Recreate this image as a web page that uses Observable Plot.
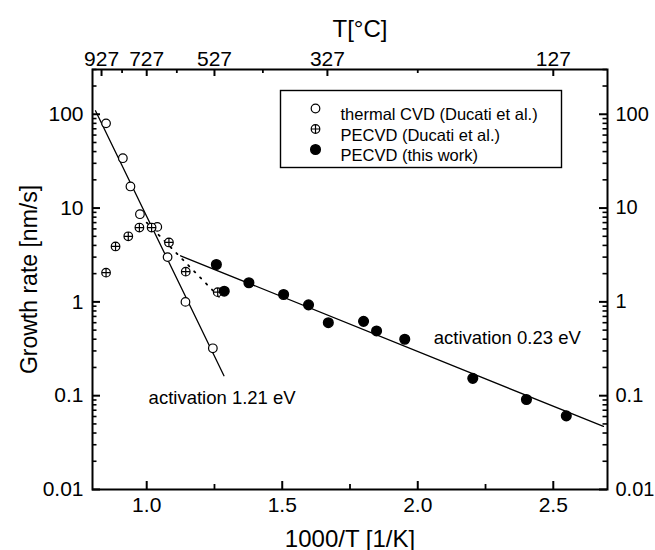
<!DOCTYPE html>
<html><head><meta charset="utf-8">
<script src="https://cdn.jsdelivr.net/npm/d3@7"></script>
<script src="https://cdn.jsdelivr.net/npm/@observablehq/plot@0.6"></script>
<style>
body{margin:0;background:#fff;}
#chart{width:655px;height:550px;}
</style></head><body><div id="chart"></div>
<script>
// thermal CVD (Ducati et al.)
const thermalX = [0.850, 0.912, 0.940, 0.975, 1.039, 1.077, 1.143, 1.244];
const thermalY = [80, 34, 17, 8.6, 6.3, 3.0, 1.0, 0.32];
// PECVD (Ducati et al.)
const ducatiX = [0.850, 0.885, 0.932, 0.973, 1.018, 1.082, 1.144, 1.262];
const ducatiY = [2.05, 3.9, 5.0, 6.2, 6.2, 4.3, 2.1, 1.27];
// PECVD (this work)
const workX = [1.257, 1.286, 1.377, 1.505, 1.597, 1.670, 1.800, 1.848, 1.952, 2.203, 2.401, 2.548];
const workY = [2.5, 1.3, 1.6, 1.2, 0.93, 0.60, 0.62, 0.49, 0.40, 0.153, 0.091, 0.061];
// fit lines
const fit121X = [0.811, 1.285];
const fit121Y = [109, 0.163];
const fit023X = [1.125, 2.685];
const fit023Y = [3.1, 0.047];
const dottedX = [1.0, 1.275];
const dottedY = [7.0, 1.07];
// ticks
const xTicks = [1.0, 1.5, 2.0, 2.5];
const xMinor = [1.25, 1.75, 2.25];
const yTicks = [0.01, 0.1, 1, 10, 100];
const yMinor = [0.02,0.03,0.04,0.05,0.06,0.07,0.08,0.09,0.2,0.3,0.4,0.5,0.6,0.7,0.8,0.9,2,3,4,5,6,7,8,9,20,30,40,50,60,70,80,90,200,300];
const tempTicksC = [927, 727, 527, 327, 127];
const tempMinorC = [827, 627, 427, 227];
const legendLabels = ["thermal CVD (Ducati et al.)", "PECVD (Ducati et al.)", "PECVD (this work)"];
const annotations = [
  {x: 1.007, y: 0.095, text: "activation 1.21 eV"},
  {x: 2.059, y: 0.414, text: "activation 0.23 eV"}
];

const zip = (xs, ys) => xs.map((x, i) => ({x, y: ys[i]}));
const invT = c => 1000 / (c + 273);

const crossCircle = {
  draw(ctx, size) {
    const r = Math.sqrt(size / Math.PI);
    ctx.moveTo(r, 0);
    ctx.arc(0, 0, r, 0, 2 * Math.PI);
    ctx.moveTo(-r, 0); ctx.lineTo(r, 0);
    ctx.moveTo(0, -r); ctx.lineTo(0, r);
  }
};

const W = 655, H = 550, ML = 92, MR = 48, MT = 69, MB = 61;
const FW = W - ML - MR, FH = H - MT - MB;
const FS = 21;
// inward tick helpers (fixed pixel length via insets)
const tickBottom = (t, len, sw) => Plot.ruleX(t, {x: d => d, insetTop: FH - len, stroke: "#000", strokeWidth: sw});
const tickTop = (t, len, sw) => Plot.ruleX(t, {x: d => d, insetBottom: FH - len, stroke: "#000", strokeWidth: sw});
const tickLeft = (t, len, sw) => Plot.ruleY(t, {y: d => d, insetRight: FW - len, stroke: "#000", strokeWidth: sw});
const tickRight = (t, len, sw) => Plot.ruleY(t, {y: d => d, insetLeft: FW - len, stroke: "#000", strokeWidth: sw});

const chart = Plot.plot({
  width: W, height: H,
  marginLeft: ML, marginRight: MR, marginTop: MT, marginBottom: MB,
  style: {fontFamily: "'Liberation Sans', Arial, sans-serif", background: "#fff", color: "#000"},
  x: {domain: [0.8, 2.7]},
  y: {type: "log", domain: [0.01, 300]},
  marks: [
    // bottom axis
    Plot.axisX({anchor: "bottom", ticks: xTicks, tickSize: 0, tickPadding: 8, tickFormat: d3.format(".1f"), fontSize: FS, label: null}),
    tickBottom(xTicks, 8, 2),
    tickBottom(xMinor, 5, 1.8),
    // top axis (temperature)
    Plot.axisX({anchor: "top", ticks: tempTicksC.map(invT), tickSize: 0, tickPadding: 4, tickFormat: d => String(Math.round(1000 / d - 273)), fontSize: FS, label: null}),
    tickTop(tempTicksC.map(invT), 7, 2),
    tickTop(tempMinorC.map(invT), 4, 1.8),
    // left axis
    Plot.axisY({anchor: "left", ticks: yTicks, tickSize: 0, tickPadding: 9, tickFormat: d => String(d), fontSize: FS, label: null}),
    tickLeft(yTicks, 8, 2),
    tickLeft(yMinor, 4.5, 1.6),
    // right axis
    Plot.axisY({anchor: "right", ticks: yTicks, tickSize: 0, tickPadding: 8, tickFormat: d => String(d), fontSize: 20, label: null}),
    tickRight(yTicks, 8, 2),
    tickRight(yMinor, 4.5, 1.6),
    // axis titles
    Plot.text(["1000/T [1/K]"], {frameAnchor: "bottom", dy: 57, lineAnchor: "bottom", textAnchor: "middle", fontSize: 24}),
    Plot.text(["T[°C]"], {frameAnchor: "top", dx: 10, dy: -33, lineAnchor: "bottom", textAnchor: "middle", fontSize: 24}),
    Plot.text(["Growth rate [nm/s]"], {frameAnchor: "left", dx: -63, rotate: -90, textAnchor: "middle", fontSize: 23}),
    // fit lines
    Plot.line(zip(fit121X, fit121Y), {x: "x", y: "y", stroke: "#000", strokeWidth: 1.3}),
    Plot.line(zip(fit023X, fit023Y), {x: "x", y: "y", stroke: "#000", strokeWidth: 1.3}),
    Plot.line(zip(dottedX, dottedY), {x: "x", y: "y", stroke: "#000", strokeWidth: 1.8, strokeDasharray: "1.5,7"}),
    // data
    Plot.dot(zip(thermalX, thermalY), {x: "x", y: "y", r: 4.3, fill: "#fff", stroke: "#000", strokeWidth: 1.2}),
    Plot.dot(zip(ducatiX, ducatiY), {x: "x", y: "y", r: 4.3, symbol: crossCircle, fill: "#fff", stroke: "#000", strokeWidth: 1.2}),
    Plot.dot(zip(workX, workY), {x: "x", y: "y", r: 4.8, fill: "#000", stroke: "#000"}),
    // annotations
    Plot.text(annotations, {x: "x", y: "y", text: "text", textAnchor: "start", fontSize: 18.5}),
    // legend
    Plot.frame({insetLeft: 188, insetRight: 46, insetTop: 21, insetBottom: 322, stroke: "#000", strokeWidth: 1.4}),
    Plot.dot([0], {frameAnchor: "top-left", dx: 223, dy: 39, r: 4.3, fill: "#fff", stroke: "#000", strokeWidth: 1.2}),
    Plot.dot([0], {frameAnchor: "top-left", dx: 223, dy: 59.5, r: 4.3, symbol: crossCircle, fill: "#fff", stroke: "#000", strokeWidth: 1.2}),
    Plot.dot([0], {frameAnchor: "top-left", dx: 223, dy: 80, r: 4.8, fill: "#000", stroke: "#000"}),
    Plot.text([legendLabels[0]], {frameAnchor: "top-left", dx: 248, dy: 39, textAnchor: "start", fontSize: 16.5}),
    Plot.text([legendLabels[1]], {frameAnchor: "top-left", dx: 248, dy: 59.5, textAnchor: "start", fontSize: 16.5}),
    Plot.text([legendLabels[2]], {frameAnchor: "top-left", dx: 248, dy: 80, textAnchor: "start", fontSize: 16.5}),
    Plot.frame({stroke: "#000", strokeWidth: 2})
  ]
});
document.getElementById("chart").appendChild(chart);
</script>
</body></html>
